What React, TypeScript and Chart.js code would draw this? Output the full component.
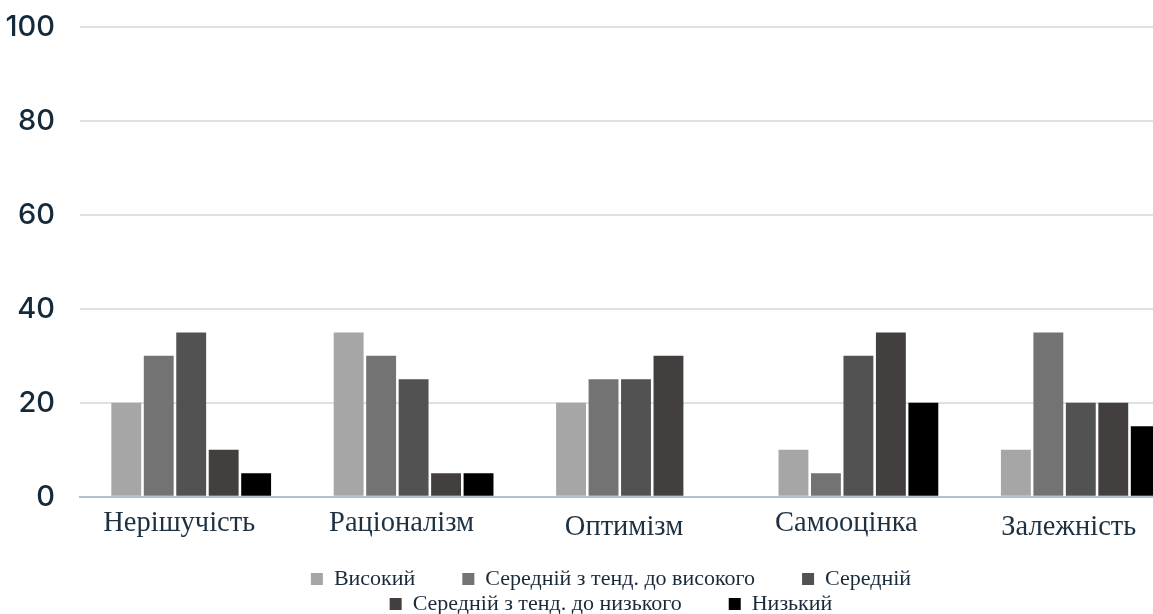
import React, { useEffect, useRef } from "react";
import { Chart, registerables } from "chart.js";

Chart.register(...registerables);

const categories = ["Нерішучість", "Раціоналізм", "Оптимізм", "Самооцінка", "Залежність"];
const seriesNames = [
  "Високий",
  "Середній з тенд. до високого",
  "Середній",
  "Середній з тенд. до низького",
  "Низький",
];
const vysokyi = [20, 35, 20, 10, 10];
const serednijDoVysokogo = [30, 30, 25, 5, 35];
const serednij = [35, 25, 25, 30, 20];
const serednijDoNyzkogo = [10, 5, 30, 35, 20];
const nyzkyi = [5, 5, 0, 20, 15];
const yTicks = [0, 20, 40, 60, 80, 100];

const seriesValues = [vysokyi, serednijDoVysokogo, serednij, serednijDoNyzkogo, nyzkyi];
const seriesColors = ["#a6a6a6", "#737373", "#525252", "#433f3e", "#000000"];

const CANVAS_W = 1222;
const CANVAS_H = 625;
const LEGEND_ROW_WIDTH = 800;
const LEGEND_CENTER_SHIFT = 37;
const LEGEND_GAP = "        ";
const LOWER_LABELS = [2, 4];

const legendRows = {
  id: "legendRows",
  beforeLayout(chart: any) {
    const lg = chart.legend;
    if (!lg || lg.__rows) return;
    lg.__rows = true;
    const fit = lg.fit;
    lg.fit = function () {
      const full = this.maxWidth;
      this.maxWidth = Math.min(full, LEGEND_ROW_WIDTH);
      fit.call(this);
      this.maxWidth = full;
    };
    const draw = lg.draw;
    lg.draw = function (...args: any[]) {
      const left = this.left;
      const right = this.right;
      const c = (left + right) / 2 + LEGEND_CENTER_SHIFT;
      this.left = c - LEGEND_ROW_WIDTH / 2;
      this.right = c + LEGEND_ROW_WIDTH / 2;
      draw.apply(this, args);
      this.left = left;
      this.right = right;
    };
  },
};

export default function App() {
  const ref = useRef<HTMLCanvasElement | null>(null);

  useEffect(() => {
    if (!ref.current) return;
    const chart = new Chart(ref.current, {
      type: "bar",
      data: {
        labels: categories,
        datasets: seriesNames.map((name, i) => ({
          label: name,
          data: seriesValues[i],
          backgroundColor: seriesColors[i],
          borderWidth: 0,
          barPercentage: 0.92,
          categoryPercentage: 0.73,
        })),
      },
      options: {
        responsive: false,
        animation: false,
        layout: { padding: { left: 0, right: 30, top: 27, bottom: 0 } },
        scales: {
          x: {
            grid: { display: false, drawTicks: false },
            border: { display: true, color: "#b6c0c9", width: 2 },
            ticks: {
              color: "#1d3142",
              padding: 10,
              labelOffset: -12,
              maxRotation: 0,
              font: (ctx: any) => ({
                family: "'Liberation Serif', 'Times New Roman', serif",
                size: 28.5,
                lineHeight: LOWER_LABELS.includes(ctx.index) ? 1.48 : 1.2,
              }),
            },
            afterFit: (scale: any) => {
              scale.height += 6;
            },
          },
          y: {
            min: 0,
            max: 100,
            afterBuildTicks: (scale: any) => {
              scale.ticks = yTicks.map((v) => ({ value: v }));
            },
            grid: {
              drawTicks: false,
              lineWidth: 2,
              color: (ctx: any) => (ctx.tick && ctx.tick.value === 0 ? "rgba(0,0,0,0)" : "#dde1e4"),
            },
            border: { display: false },
            ticks: {
              color: "#142a3b",
              padding: 25,
              font: { family: "Inter, 'Noto Sans', sans-serif", size: 29, weight: 500 },
            },
            afterFit: (scale: any) => {
              scale.width = 80;
              scale.paddingTop = 0;
              scale.paddingBottom = 0;
            },
          },
        },
        plugins: {
          tooltip: { enabled: false },
          legend: {
            position: "bottom",
            labels: {
              boxWidth: 12,
              boxHeight: 12,
              padding: 3,
              color: "#1b2a3a",
              font: { family: "'Liberation Serif', 'Times New Roman', serif", size: 22 },
              generateLabels: (c: any) =>
                (Chart.defaults.plugins.legend.labels.generateLabels as any)(c).map((l: any) => ({
                  ...l,
                  text: l.text + LEGEND_GAP,
                })),
            },
          },
        },
      } as any,
      plugins: [legendRows],
    });
    return () => chart.destroy();
  }, []);

  return (
    <div
      style={{
        position: "fixed",
        left: 0,
        top: 0,
        width: 1153,
        height: 614,
        overflow: "hidden",
        background: "#ffffff",
      }}
    >
      <canvas
        ref={ref}
        width={CANVAS_W}
        height={CANVAS_H}
        style={{ display: "block", width: CANVAS_W, height: CANVAS_H }}
      />
    </div>
  );
}
